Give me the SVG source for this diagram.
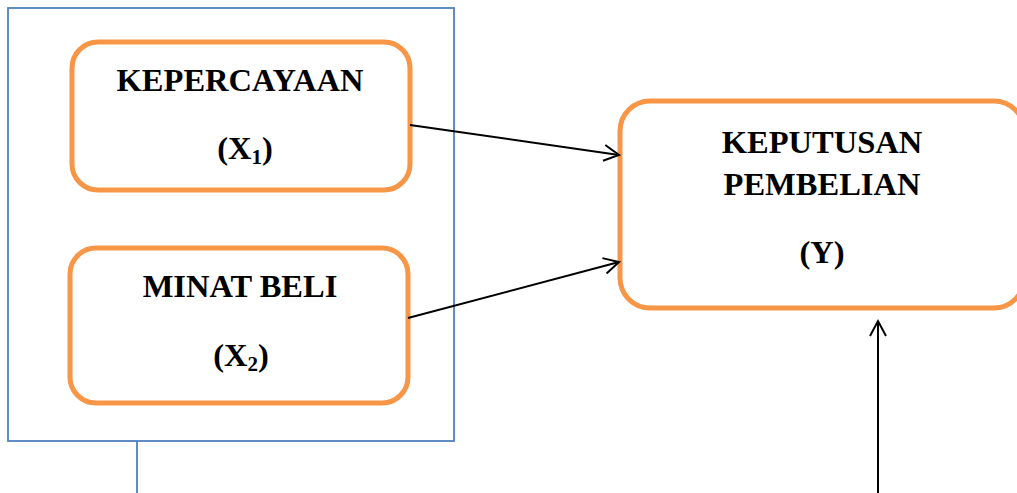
<svg xmlns="http://www.w3.org/2000/svg" width="1017" height="493" viewBox="0 0 1017 493">
<style>
.box{fill:#fff;stroke:#F79646;stroke-width:5}
.t{font-family:"Liberation Serif","Times New Roman",serif;font-weight:bold;font-size:32.5px;fill:#000;text-anchor:middle}
.sub{font-size:21px}
.blue{fill:none;stroke:#4F81BD;stroke-width:1.8}
.conn{stroke:#000;stroke-width:2;fill:none;marker-end:url(#arr)}
</style>
<defs>
<marker id="arr" markerUnits="userSpaceOnUse" markerWidth="22" markerHeight="22" refX="18" refY="9" orient="auto">
<path d="M3,1 L18,9 L3,17" fill="none" stroke="#000" stroke-width="2"/>
</marker>
</defs>
<rect x="0" y="0" width="1017" height="493" fill="#fff"/>
<g id="frame">
<rect class="blue" x="8" y="8" width="446" height="433"/>
<line class="blue" x1="137" y1="441" x2="137" y2="493"/>
</g>
<g id="x1">
<rect class="box" x="72" y="42" width="338" height="148" rx="26"/>
<text class="t" x="240" y="91">KEPERCAYAAN</text>
<text class="t" x="245" y="159">(X<tspan class="sub" dy="5">1</tspan><tspan dy="-5">)</tspan></text>
</g>
<g id="x2">
<rect class="box" x="70" y="248" width="338" height="155" rx="26"/>
<text class="t" x="240" y="297">MINAT BELI</text>
<text class="t" x="241" y="366">(X<tspan class="sub" dy="5">2</tspan><tspan dy="-5">)</tspan></text>
</g>
<g id="y">
<rect class="box" x="620" y="101" width="404" height="207" rx="30"/>
<text class="t" x="822" y="153">KEPUTUSAN</text>
<text class="t" x="822" y="195">PEMBELIAN</text>
<text class="t" x="822" y="263">(Y)</text>
</g>
<g id="connectors">
<line class="conn" x1="410" y1="125" x2="619" y2="155"/>
<line class="conn" x1="408" y1="318" x2="619" y2="262"/>
<line class="conn" x1="878" y1="493" x2="878" y2="321"/>
</g>
</svg>
